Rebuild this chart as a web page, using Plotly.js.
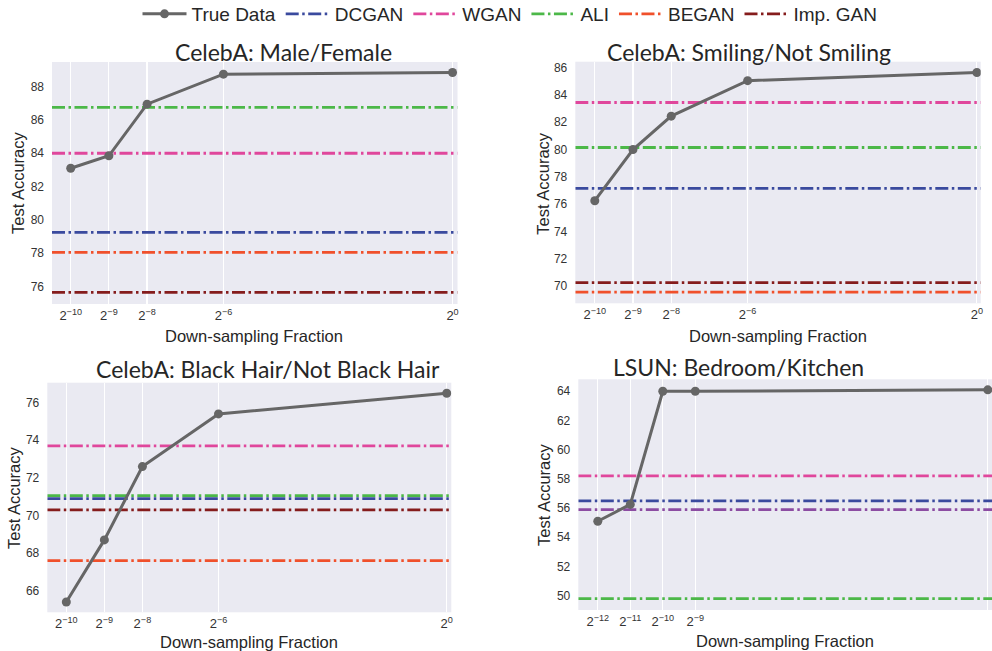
<!DOCTYPE html>
<html><head><meta charset="utf-8">
<script src="https://cdn.plot.ly/plotly-3.0.1.min.js"></script>
<style>body{margin:0;background:#fff;}</style>
</head><body>
<div id="chart" style="width:992px;height:651px;"></div>
<script>
// ---------- data ----------
const seriesNames = ["True Data", "DCGAN", "WGAN", "ALI", "BEGAN", "Imp. GAN"];
const panelTitles = ["CelebA: Male/Female", "CelebA: Smiling/Not Smiling",
                     "CelebA: Black Hair/Not Black Hair", "LSUN: Bedroom/Kitchen"];

const celebaExp = [-10, -9, -8, -6, 0];
const lsunExp = [-12, -11, -10, -9, 0];
const celebaTickText = ["2<sup>\u221210</sup>", "2<sup>\u22129</sup>", "2<sup>\u22128</sup>", "2<sup>\u22126</sup>", "2<sup>0</sup>"];
const lsunTickText = ["2<sup>\u221212</sup>", "2<sup>\u221211</sup>", "2<sup>\u221210</sup>", "2<sup>\u22129</sup>", "2<sup>0</sup>"];

const maleTrue = [83.1, 83.85, 86.95, 88.75, 88.85];
const maleGans = [79.25, 84.0, 86.75, 78.05, 75.65];      // DCGAN, WGAN, ALI, BEGAN, Imp. GAN

const smileTrue = [76.25, 80.0, 82.45, 85.05, 85.65];
const smileGans = [77.15, 83.45, 80.15, 69.55, 70.25];

const hairTrue = [65.4, 68.7, 72.6, 75.4, 76.5];
const hairGans = [70.9, 73.7, 71.05, 67.6, 70.3];

const lsunTrue = [55.1, 56.25, 64.0, 64.0, 64.1];
const lsunGans = [56.5, 58.2, 49.8, null, null];
const lsunExtra = [55.9];   // unlabelled purple baseline

// ---------- styles ----------
const colors = {"True Data": "#666666", "DCGAN": "#3a4a9e", "WGAN": "#e0479c", "ALI": "#4cb848",
                "BEGAN": "#f0502b", "Imp. GAN": "#851c1c", "extra": "#8c4ca2"};
const dashPattern = "13px,3.5px,2.5px,3.5px";

const panels = [
  {truth: maleTrue, gans: maleGans, xs: celebaExp, tt: celebaTickText, xr: [-10.49, 0.13], yr: [74.95, 89.48],
   dom: [52, 457.5, 62, 304], title: [283, 52], xt: [254, 336], yt: [18, 183]},
  {truth: smileTrue, gans: smileGans, xs: celebaExp, tt: celebaTickText, xr: [-10.51, 0.1], yr: [68.73, 86.44],
   dom: [575.3, 980.7, 61.7, 303.3], title: [748.7, 52], xt: [778, 336], yt: [542.7, 183]},
  {truth: hairTrue, gans: hairGans, xs: celebaExp, tt: celebaTickText, xr: [-10.5, 0.12], yr: [64.85, 77.06],
   dom: [47.3, 451.3, 382.7, 612.3], title: [268, 369], xt: [249, 642], yt: [14, 498]},
  {truth: lsunTrue, gans: lsunGans, extra: lsunExtra, xs: lsunExp, tt: lsunTickText, xr: [-12.6, 0.13], yr: [49.02, 64.82],
   dom: [578.3, 992, 379.3, 610], title: [738, 367], xt: [785, 641], yt: [544, 495]}
];

const W = 992, H = 651;
const traces = [];
const layout = {
  width: W, height: H, margin: {l: 0, r: 0, t: 0, b: 0, autoexpand: false},
  paper_bgcolor: "#ffffff", plot_bgcolor: "#EAEAF2",
  font: {family: "Liberation Sans, Arial, sans-serif", color: "#262626"},
  showlegend: true,
  legend: {orientation: "h", x: 510 / W, xanchor: "center", y: 1.0077, yanchor: "top",
           font: {size: 19, family: "Liberation Sans, Arial, sans-serif", color: "#262626"},
           bgcolor: "rgba(0,0,0,0)", itemwidth: 44, tracegroupgap: 0},
  annotations: []
};

panels.forEach((p, i) => {
  const n = i + 1;
  const xa = "x" + (n === 1 ? "" : n), ya = "y" + (n === 1 ? "" : n);
  const xKey = "xaxis" + (n === 1 ? "" : n), yKey = "yaxis" + (n === 1 ? "" : n);
  layout[xKey] = {
    domain: [p.dom[0] / W, p.dom[1] / W], range: p.xr, anchor: ya,
    tickmode: "array", tickvals: p.xs, ticktext: p.tt,
    showgrid: true, gridcolor: "#ffffff", gridwidth: 1.2, zeroline: false, showline: false, ticks: "",
    tickfont: {size: 13, color: "#333333"}, ticklabelstandoff: 2, fixedrange: true
  };
  layout[yKey] = {
    domain: [1 - p.dom[3] / H, 1 - p.dom[2] / H], range: p.yr, anchor: xa,
    dtick: 2, tick0: 0, showgrid: false, zeroline: false, showline: false, ticks: "",
    tickfont: {size: 12, color: "#333333"}, ticklabelstandoff: 7, fixedrange: true
  };
  // baselines
  seriesNames.slice(1).forEach((nm, k) => {
    const v = p.gans[k];
    if (v === null || v === undefined) return;
    traces.push({
      type: "scatter", mode: "lines", name: nm, xaxis: xa, yaxis: ya,
      x: p.xr, y: [v, v], legendrank: k + 2, showlegend: i === 0,
      line: {color: colors[nm], width: 2.8, dash: dashPattern}, hoverinfo: "skip"
    });
  });
  if (p.extra) {
    p.extra.forEach(v => traces.push({
      type: "scatter", mode: "lines", name: "", xaxis: xa, yaxis: ya,
      x: p.xr, y: [v, v], showlegend: false,
      line: {color: colors.extra, width: 2.8, dash: dashPattern}, hoverinfo: "skip"
    }));
  }
  traces.push({
    type: "scatter", mode: "lines+markers", name: "True Data", xaxis: xa, yaxis: ya,
    x: p.xs, y: p.truth, legendrank: 1, showlegend: i === 0,
    line: {color: colors["True Data"], width: 3}, marker: {size: 9, color: colors["True Data"]}
  });
  layout.annotations.push(
    {text: panelTitles[i], xref: "paper", yref: "paper", x: p.title[0] / W, y: 1 - p.title[1] / H,
     xanchor: "center", yanchor: "middle", showarrow: false,
     font: {family: "Lato, sans-serif", size: 23, color: "#262626"}},
    {text: "Down-sampling Fraction", xref: "paper", yref: "paper", x: p.xt[0] / W, y: 1 - p.xt[1] / H,
     xanchor: "center", yanchor: "middle", showarrow: false, font: {size: 16.5, color: "#262626"}},
    {text: "Test Accuracy", xref: "paper", yref: "paper", x: p.yt[0] / W, y: 1 - p.yt[1] / H,
     xanchor: "center", yanchor: "middle", showarrow: false, textangle: -90, font: {size: 16.5, color: "#262626"}}
  );
});

Plotly.newPlot("chart", traces, layout, {displayModeBar: false, staticPlot: true});
</script>
</body></html>
